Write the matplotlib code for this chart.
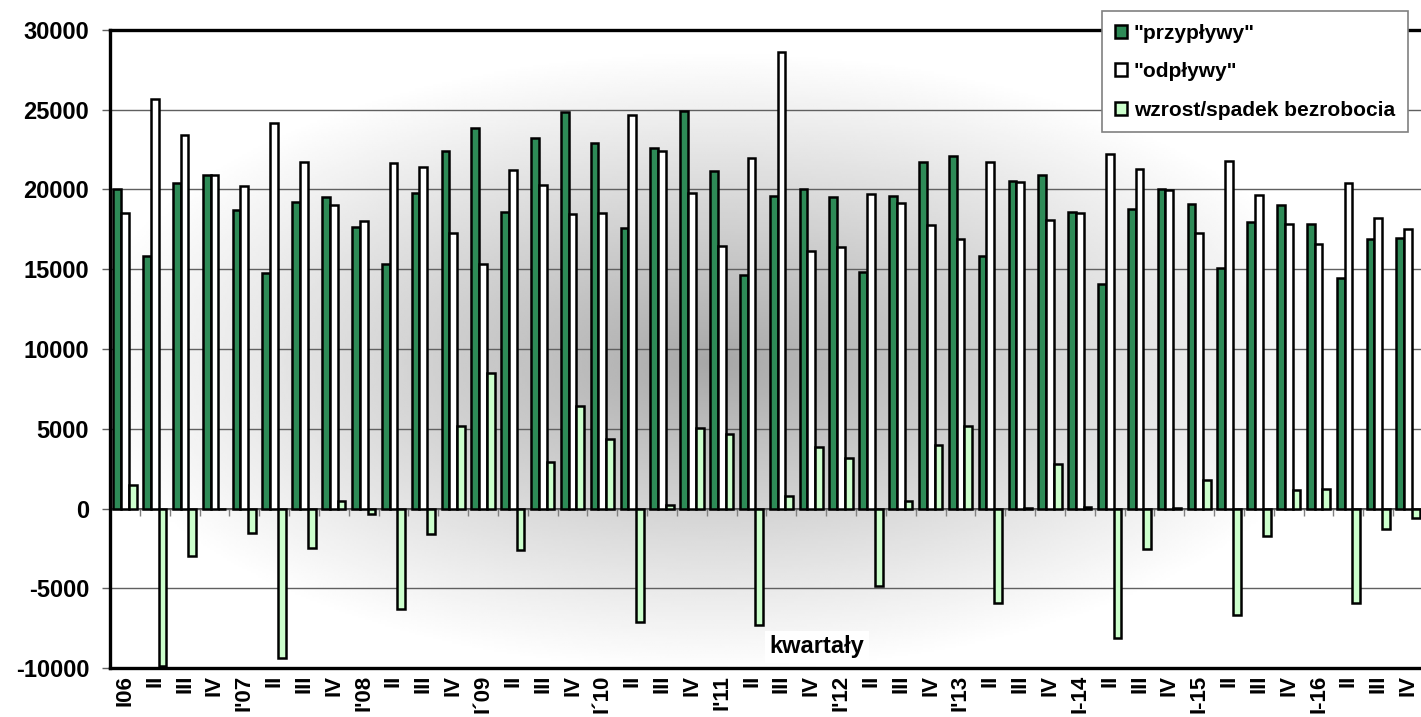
import numpy as np
import matplotlib
matplotlib.use('Agg')
import matplotlib.pyplot as plt

plt.rcParams['font.family'] = ['Liberation Sans', 'DejaVu Sans']
plt.rcParams['font.weight'] = 'bold'
plt.rcParams['axes.unicode_minus'] = False

# kwartały 2006-2016
kwartaly = ['I06', 'II', 'III', 'IV', "I'07", 'II', 'III', 'IV', "I'08", 'II', 'III', 'IV',
            'I´09', 'II', 'III', 'IV', 'I´10', 'II', 'III', 'IV', "I'11", 'II', 'III', 'IV',
            "I'12", 'II', 'III', 'IV', "I'13", 'II', 'III', 'IV', 'I-14', 'II', 'III', 'IV',
            'I-15', 'II', 'III', 'IV', 'I-16', 'II', 'III', 'IV']

przyplywy = [20000, 15800, 20400, 20900, 18700, 14750, 19200, 19550, 17650, 15350, 19800, 22400,
             23850, 18600, 23200, 24850, 22900, 17600, 22600, 24900, 21150, 14650, 19600, 20000,
             19550, 14850, 19600, 21750, 22100, 15800, 20550, 20900, 18600, 14100, 18800, 20000,
             19100, 15100, 17950, 19000, 17850, 14450, 16900, 16950]

odplywy = [18500, 25700, 23400, 20900, 20250, 24150, 21700, 19050, 18000, 21650, 21400, 17250,
           15350, 21200, 20300, 18450, 18550, 24700, 22400, 19800, 16450, 21950, 28650, 16150,
           16400, 19700, 19150, 17750, 16900, 21750, 20500, 18100, 18500, 22250, 21300, 19950,
           17250, 21800, 19650, 17850, 16600, 20400, 18200, 17550]

bezrobocie = [1500, -9900, -3000, -30, -1550, -9400, -2500, 500, -350, -6300, -1600, 5150,
              8500, -2600, 2900, 6400, 4350, -7100, 200, 5050, 4700, -7300, 800, 3850,
              3150, -4850, 450, 3950, 5200, -5950, 50, 2800, 100, -8150, -2550, 50,
              1800, -6700, -1700, 1150, 1200, -5950, -1300, -600]

fig = plt.figure(figsize=(14.21, 7.17), dpi=100)
ax = fig.add_axes([110 / 1421, 49 / 717, 1313 / 1421, 638 / 717])

# tło z gradientem od środka
gy, gx = np.mgrid[0:1:300j, 0:1:600j]
r = np.sqrt(((gx - 0.46) / 0.52) ** 2 + ((gy - 0.52) / 0.52) ** 2)
shade = 0.65 + 0.37 * np.clip(r, 0, 1) ** 0.9
ax.imshow(np.clip(shade, 0, 1), cmap='gray', vmin=0, vmax=1, extent=[0, 1, 0, 1],
          transform=ax.transAxes, aspect='auto', zorder=0, interpolation='bilinear')

x = np.arange(len(kwartaly))
w = 0.26
ax.bar(x - w, przyplywy, w, color='#2e8b57', edgecolor='black', linewidth=1.8,
       label='"przypływy"', zorder=3)
ax.bar(x, odplywy, w, color='white', edgecolor='black', linewidth=1.8,
       label='"odpływy"', zorder=3)
ax.bar(x + w, bezrobocie, w, color='#ccffcc', edgecolor='black', linewidth=1.8,
       label='wzrost/spadek bezrobocia', zorder=3)

ax.set_xlim(-0.5, len(kwartaly) - 0.5)
ax.set_ylim(-10000, 30000)
ax.set_yticks(np.arange(-10000, 30001, 5000))
ax.tick_params(axis='y', direction='out', length=6, width=1, color='#606060',
               labelsize=17, pad=9)
ax.yaxis.grid(True, color='#606060', linewidth=1)
ax.set_axisbelow(True)

ax.set_xticks(x)
ax.set_xticklabels(kwartaly, rotation=90, fontsize=16, fontweight='bold')
ax.tick_params(axis='x', length=0, pad=5)

for s in ['left', 'bottom', 'top']:
    ax.spines[s].set_linewidth(2.4)
    ax.spines[s].set_color('black')
ax.spines['right'].set_visible(False)

# oś zerowa z kreskami
zero_ax = ax.secondary_xaxis(0.25)
zero_ax.set_xticks(np.arange(-0.5, len(kwartaly), 1.0))
zero_ax.tick_params(axis='x', direction='out', length=5, width=1, color='#808080',
                    labelbottom=False, labeltop=False)
zero_ax.spines['bottom'].set_color('#303030')
zero_ax.spines['bottom'].set_linewidth(1.2)

ax.text(0.5385, 0.033, 'kwartały', transform=ax.transAxes, ha='center', va='center',
        fontsize=17, fontweight='bold', zorder=5,
        bbox=dict(facecolor='white', edgecolor='none', pad=3))

leg = ax.legend(loc='upper left', bbox_to_anchor=(0.7555, 1.03), fontsize=15,
                handlelength=0.6, handleheight=0.6, handletextpad=0.3,
                labelspacing=0.93, borderpad=0.62, fancybox=False, framealpha=1,
                edgecolor='#808080', borderaxespad=0)
leg.get_frame().set_linewidth(1.2)
leg.set_zorder(10)

fig.savefig('out.png', dpi=100)
